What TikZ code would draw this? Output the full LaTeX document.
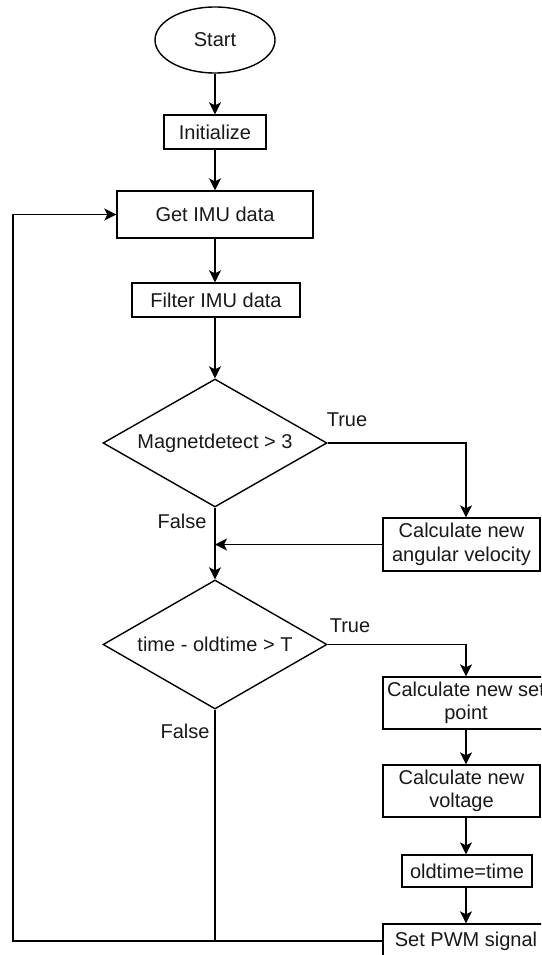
\documentclass[tikz,border=0pt]{standalone}
\usepackage{fontspec}
\setmainfont{Liberation Sans}
\usetikzlibrary{shapes.geometric,arrows.meta,calc}
\begin{document}
\begin{tikzpicture}[x=1pt,y=-1pt,
  every node/.style={font=\fontsize{20}{23.5}\selectfont, text=black!90},
  box/.style={draw, line width=1.4pt, rectangle, inner sep=0pt, align=center},
  dec/.style={draw, line width=1.4pt, diamond, shape aspect=1.75, inner sep=0pt, align=center},
  conn/.style={line width=1.4pt},
  arr/.style={conn, -{Stealth[length=12pt,width=12pt,inset=3pt]}},
  lbl/.style={inner sep=0pt}]
\useasboundingbox (0,0) rectangle (541,955);
\clip (0,0) rectangle (541,955);
\fill[white] (0,0) rectangle (541,955);
% nodes
\node[draw, line width=1.4pt, ellipse, minimum width=120pt, minimum height=66pt, inner sep=0pt] (start) at (215,40) {Start};
\node[box, minimum width=102pt, minimum height=34pt] (init) at (215,132) {Initialize};
\node[box, minimum width=196pt, minimum height=47pt] (get) at (215,214.5) {Get IMU data};
\node[box, minimum width=168pt, minimum height=34pt] (filter) at (216,300) {Filter IMU data};
\node[dec, minimum width=224pt, minimum height=128pt] (d1) at (215,443) {Magnetdetect > 3};
\node[box, minimum width=157pt, minimum height=53pt] (angv) at (461.5,544.5) {Calculate new\\angular velocity};
\node[dec, minimum width=224pt, minimum height=129pt] (d2) at (215,644.5) {time - oldtime > T};
\node[box, minimum width=166pt, minimum height=52pt] (setp) at (466,703) {Calculate new set\\point};
\node[box, minimum width=157pt, minimum height=52pt] (volt) at (461.5,791) {Calculate new\\voltage};
\node[box, minimum width=130pt, minimum height=32pt] (old) at (467,871) {oldtime=time};
\node[box, minimum width=166pt, minimum height=34pt] (pwm) at (466,941) {Set PWM signal};
\coordinate (loop) at (13,941);
% labels
\node[lbl] (t1) at (347,420) {True};
\node[lbl] (f1) at (182,521) {False};
\node[lbl] (t2) at (350,626) {True};
\node[lbl] (f2) at (185,731) {False};
% connectors
\draw[arr] (start.south) -- (init.north);
\draw[arr] (init.south) -- (get.north);
\draw[arr] (get.south) -- (get.south |- filter.north);
\draw[arr] (filter.south -| d1.north) -- (d1.north);
\draw[arr] (d1.east) -| (setp.north |- angv.north);
\draw[arr] (angv.west) -- (angv.west -| d1.south);
\draw[arr] (d1.south) -- (d2.north);
\draw[arr] (d2.east) -| (setp.north);
\draw[arr] (setp.south) -- (setp.south |- volt.north);
\draw[arr] (setp.south |- volt.south) -- (setp.south |- old.north);
\draw[arr] (setp.south |- old.south) -- (pwm.north);
\draw[conn] (d2.south) -- (d2.south |- pwm.west);
\draw[arr] (pwm.west) -- (loop) |- (get.west);
\end{tikzpicture}
\end{document}
